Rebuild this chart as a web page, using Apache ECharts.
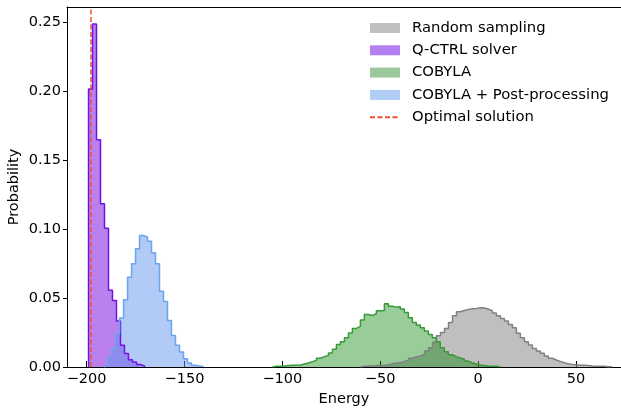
<!DOCTYPE html>
<html>
<head>
<meta charset="utf-8">
<script src="https://cdn.jsdelivr.net/npm/echarts@6/dist/echarts.min.js"></script>
<style>
  html, body { margin: 0; padding: 0; background: #fff; }
  #chart { width: 621px; height: 409px; }
</style>
</head>
<body>
<div id="chart"></div>
<script>
  // histogram values, bins of equal width
  var binWidth = 2.04;

  var randomStart = -60;
  var randomProb = [0.0005, 0.0007, 0.0007, 0.001, 0.001, 0.0012, 0.0017, 0.0024, 0.0029, 0.0031,
    0.0041, 0.0048, 0.0063, 0.0075, 0.008, 0.0092, 0.0116, 0.014, 0.0179, 0.0227,
    0.0251, 0.028, 0.0323, 0.0372, 0.04, 0.041, 0.0417, 0.0422, 0.0425, 0.043,
    0.0427, 0.042, 0.0408, 0.0391, 0.0372, 0.0352, 0.0333, 0.0309, 0.0285, 0.0244,
    0.0212, 0.0183, 0.0159, 0.0135, 0.0116, 0.0099, 0.008, 0.0063, 0.0051, 0.0041,
    0.0031, 0.0024, 0.0019, 0.0017, 0.0012, 0.0012, 0.001, 0.0007, 0.0005, 0.0005,
    0.0005, 0.0002, 0.0002];

  var qctrlStart = -199;
  var qctrlProb = [0.2015, 0.2487, 0.1648, 0.1183, 0.1006, 0.0557, 0.0483, 0.0333, 0.0157, 0.0097,
    0.0053, 0.0036, 0.0019, 0.0007];

  var cobylaStart = -105;
  var cobylaProb = [0.0005, 0.0005, 0.0007, 0.001, 0.0012, 0.0012, 0.0014, 0.0022, 0.0029, 0.0039,
    0.0048, 0.0063, 0.0075, 0.0084, 0.0101, 0.0128, 0.0164, 0.0183, 0.0212, 0.0246,
    0.028, 0.0294, 0.034, 0.0381, 0.0374, 0.0386, 0.0408, 0.041, 0.0458, 0.0441,
    0.0434, 0.0437, 0.042, 0.0396, 0.0357, 0.0323, 0.0304, 0.0285, 0.0261, 0.0236,
    0.0212, 0.0183, 0.014, 0.0111, 0.0089, 0.0075, 0.0065, 0.0058, 0.0043, 0.0031,
    0.0022, 0.0014, 0.001, 0.0007, 0.0005, 0.0005, 0.0002];

  var postStart = -191.3;
  var postProb = [0.001, 0.0068, 0.0133, 0.0241, 0.0355, 0.0487, 0.0651, 0.0748, 0.0857, 0.0953,
    0.0941, 0.0912, 0.0828, 0.0748, 0.055, 0.0475, 0.0338, 0.0229, 0.0157, 0.0109,
    0.006, 0.0029, 0.0012, 0.0007, 0.0003];

  var optimalEnergy = -197.75;

  var xTicks = [-200, -150, -100, -50, 0, 50];
  var yTicks = [0, 0.05, 0.1, 0.15, 0.2, 0.25];
  var xMin = -210, xMax = 73, yMax = 0.261;

  // step outline: up at the first edge, flat over each bin, down at the last edge
  function stepData(start, probs) {
    var pts = [[start, 0]];
    for (var i = 0; i < probs.length; i++) {
      pts.push([start + i * binWidth, probs[i]]);
    }
    var end = start + probs.length * binWidth;
    pts.push([end, probs[probs.length - 1]]);
    pts.push([end, 0]);
    return pts;
  }

  function histSeries(name, start, probs, edge, fill, fillOpacity) {
    return {
      name: name,
      type: 'line',
      step: 'end',
      symbol: 'none',
      data: stepData(start, probs),
      lineStyle: { color: edge, width: 1.5 },
      itemStyle: { color: edge },
      areaStyle: { color: fill, opacity: fillOpacity },
      emphasis: { disabled: true }
    };
  }

  var font = 'DejaVu Sans';
  var chart = echarts.init(document.getElementById('chart'));
  chart.setOption({
    animation: false,
    grid: {
      left: 67, right: 0, top: 7, bottom: 42,
      outerBoundsMode: 'none',
      containLabel: false
    },
    legend: {
      orient: 'vertical',
      left: 369,
      top: 20,
      padding: 0,
      itemWidth: 30,
      itemHeight: 10,
      itemGap: 6.3,
      textStyle: { fontFamily: font, fontSize: 14.8, color: '#000', lineHeight: 16, padding: [0, 0, 0, 7] },
      data: [
        { name: 'Random sampling', icon: 'rect', itemStyle: { color: '#c0c0c0', borderWidth: 0 } },
        { name: 'Q-CTRL solver', icon: 'rect', itemStyle: { color: '#b47ff0', borderWidth: 0 } },
        { name: 'COBYLA', icon: 'rect', itemStyle: { color: '#9cc99c', borderWidth: 0 } },
        { name: 'COBYLA + Post-processing', icon: 'rect', itemStyle: { color: '#b0cdf4', borderWidth: 0 } },
        { name: 'Optimal solution', itemStyle: { opacity: 0, borderWidth: 0 } }
      ]
    },
    xAxis: [{
      type: 'value',
      min: xMin,
      max: xMax,
      name: 'Energy',
      nameLocation: 'middle',
      nameGap: 25,
      nameMoveOverlap: false,
      nameTextStyle: { fontFamily: font, fontSize: 14.5, color: '#000' },
      axisLine: { show: true, onZero: false, lineStyle: { color: '#000', width: 1 } },
      axisTick: { show: true, inside: true, length: 6, customValues: xTicks, lineStyle: { color: '#000' } },
      axisLabel: {
        customValues: xTicks,
        margin: 5,
        fontFamily: font, fontSize: 14.5, color: '#000',
        formatter: function (v) { return String(v).replace('-', '\u2212'); }
      },
      splitLine: { show: false }
    }, {
      // top spine only
      type: 'value',
      position: 'top',
      min: xMin,
      max: xMax,
      axisLine: { show: true, onZero: false, lineStyle: { color: '#000', width: 1 } },
      axisTick: { show: false },
      axisLabel: { show: false },
      splitLine: { show: false }
    }],
    yAxis: {
      type: 'value',
      min: 0,
      max: yMax,
      name: 'Probability',
      nameLocation: 'middle',
      nameGap: 45,
      nameMoveOverlap: false,
      nameTextStyle: { fontFamily: font, fontSize: 14.5, color: '#000' },
      axisLine: { show: true, onZero: false, lineStyle: { color: '#000', width: 1 } },
      axisTick: { show: true, length: 4, customValues: yTicks, lineStyle: { color: '#000' } },
      axisLabel: {
        customValues: yTicks,
        margin: 6,
        fontFamily: font, fontSize: 14.5, color: '#000',
        formatter: function (v) { return v.toFixed(2); }
      },
      splitLine: { show: false }
    },
    series: [
      histSeries('Random sampling', randomStart, randomProb, '#808080', '#808080', 0.5),
      histSeries('Q-CTRL solver', qctrlStart, qctrlProb, '#7312e6', '#8a2be2', 0.6),
      histSeries('COBYLA', cobylaStart, cobylaProb, '#379a37', '#008000', 0.4),
      histSeries('COBYLA + Post-processing', postStart, postProb, '#6aa3ee', '#6495ed', 0.5),
      {
        name: 'Optimal solution',
        type: 'line',
        symbol: 'none',
        data: [[optimalEnergy, 0], [optimalEnergy, yMax]],
        lineStyle: { color: '#f2502e', width: 1.5, type: [5, 2.5] },
        itemStyle: { color: '#f2502e' },
        emphasis: { disabled: true },
        z: 5
      }
    ]
  });
</script>
</body>
</html>
